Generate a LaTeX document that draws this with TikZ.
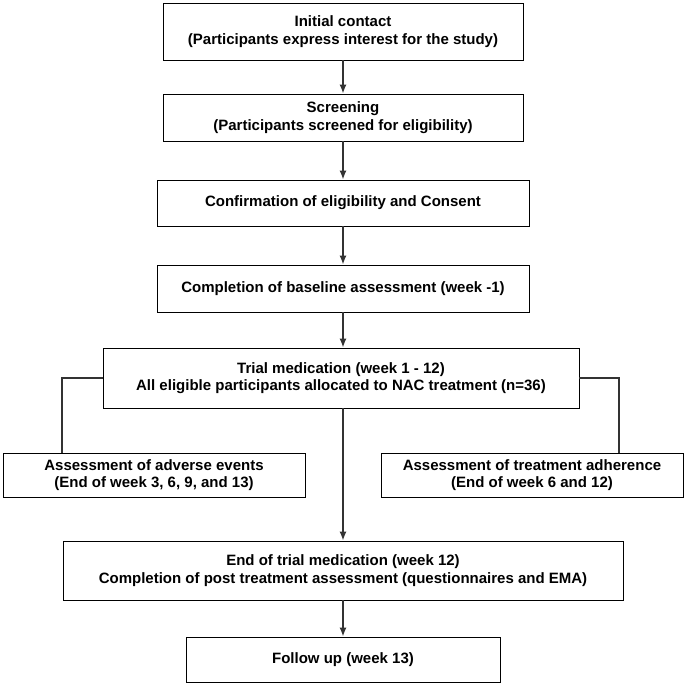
\documentclass[tikz,border=0pt]{standalone}
\usepackage{fontspec}
\setmainfont{Liberation Sans}
\usetikzlibrary{positioning}
\usetikzlibrary{arrows.meta}
\begin{document}
\begin{tikzpicture}[x=1pt,y=-1pt, thick,
    box/.style = {draw, line width=0.9pt, align=center, font=\fontsize{15}{17.5}\selectfont\bfseries, inner sep=0pt},
    arr/.style = {-{Latex[length=9pt,width=7pt]}, line width=1.4pt, color=black!80}]
        \useasboundingbox (0,0) rectangle (685,684);
        %Boxen
        \node[box, minimum width=360, minimum height=57] (contact) at (343,31.5) {Initial contact\\(Participants express interest for the study)};
        \node[box, minimum width=360, minimum height=47] (screen) at (343,117.5) {Screening\\(Participants screened for eligibility)};
        \node[box, minimum width=372, minimum height=46] (consent) at (343,203) {Confirmation of eligibility and Consent};
        \node[box, minimum width=372, minimum height=47] (base) at (343,288.5) {Completion of baseline assessment (week -1)};
        \node[box, minimum width=476, minimum height=60] (trial) at (341,378) {Trial medication (week 1 - 12)\\All eligible participants allocated to NAC treatment (n=36)};
        \node[box, minimum width=302, minimum height=44] (adverse) at (154,475) {Assessment of adverse events\\(End of week 3, 6, 9, and 13)};
        \node[box, minimum width=302, minimum height=44] (adhere) at (532,475) {Assessment of treatment adherence\\(End of week 6 and 12)};
        \node[box, minimum width=560, minimum height=59] (endtrial) at (343,570.5) {End of trial medication (week 12)\\Completion of post treatment assessment (questionnaires and EMA)};
        \node[box, minimum width=314, minimum height=45] (follow) at (343,659.5) {Follow up (week 13)};

        \coordinate (advtop) at (62,453);
        \coordinate (adhtop) at (619,453);

        %Kanten
        \draw[arr] (contact) -- (screen);
        \draw[arr] (screen) -- (consent);
        \draw[arr] (consent) -- (base);
        \draw[arr] (base.south) -- (base.south |- trial.north);
        \draw[arr] (343,408) -- (endtrial.north);
        \draw[arr] (endtrial) -- (follow);

        \draw[line width=1.4pt, black!80] (trial.west) -| (advtop);
        \draw[line width=1.4pt, black!80] (trial.east) -| (adhtop);
    \end{tikzpicture}
\end{document}
